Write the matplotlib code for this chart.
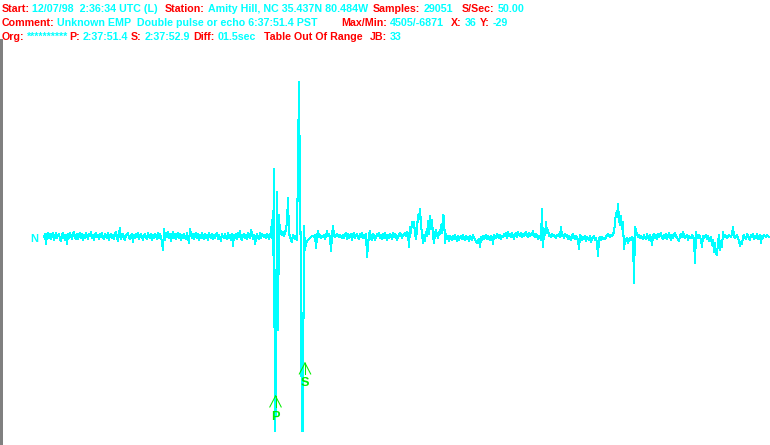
import numpy as np
import matplotlib
matplotlib.use("Agg")
import matplotlib.pyplot as plt
from matplotlib.lines import Line2D

W, H, DPI = 770, 445, 100

# ---- trace amplitude (display units, ~29 counts per unit), one value per display column ----
pre_event = [
    0, 3, -7, 2, 4, -1, 3, -2, 2, 4, -3, 1, 4, -1, 2, 3, -2, -4, 2, 4,
    1, -3, 2, -7, 3, -1, 4, 1, -2, 3, 5, 0, -2, 3, -2, 2, 4, -1, 3, -3,
    2, -1, 4, 1, -2, 3, 1, 5, -1, 2, -3, 3, 4, 0, 2, -2, 3, 0, 4, -1,
    -2, 3, 1, -1, 4, -3, 2, 3, -1, 2, -2, 3, 5, 0, -4, 3, 9, -2, 2, 3,
    -1, -3, 2, 3, 4, -1, -2, 2, 3, -5, 2, -1, 3, 0, 4, -2, 1, 3, 0, -3,
    2, 3, -1, -2, 4, 0, -1, 3, -3, 2, -1, 3, 1, -2, 4, -1, 3, 0, -5, -13,
    8, -3, 4, 0, 5, -1, 3, -4, 2, 5, -1, 3, -2, 2, 4, -1, 3, -3, 2, -1,
    3, 0, -2, 4, -1, -6, 8, 2, -1, 3, -2, 2, 4, -1, 3, -3, 2, -1, 4, 0,
    -2, 3, -1, 2, -3, 4, 0, -1, 3, -2, 2, -1, 3, 4, -2, 2, -1, -4, 3, 0,
    -1, 3, 0, -2, 4, -1, 2, -3, 3, -9, 2, -1, 3, -2, 4, 0, 6, -1, -3, 2,
    3, -1, 2, -2, 4, 0, -1, 7, 3, -2, 2, -7, -1, 3, 0, -2, 4, -1, 3, 1,
]
event = [
    0, 2, -1, 3, 1, -2, 2, 4, 17, -18, 68, -236, -116, 45, -93, 22, 3, 6, 2, 5,
    1, 4, 8, 15, 39, 3, 1, -3, -5, 2, 0, -2, 1, -3, 74, 155, 44, -35, -236, -168,
    11, -13, -6, -4, -3, -2, -1, 0, 1, 1, 0, 2, -11, 1, 6, 0, 2, -1, 1, 0,
    2, -2, 1, 6, 1, 3, 0, -14, 2, 11, 1, 0, 2, 3, 1, 0, 2, 1, -1, 2,
]
coda_early = [
    -1, 2, 4, -2, 3, -1, 2, 3, -3, 2, 4, -1, 2, 3, -1, -2, 3, 0, 4, -1,
    2, -1, 3, -20, -8, 2, 6, -1, -3, 3, 1, -3, 0, 3, 1, 4, -1, 2, -2, 3,
    -1, 4, 1, -3, 2, -1, 3, 1, -2, 4, 0, 3, 1, -3, 0, 2, 4, 2, -1, 2,
    2, 4, 1, 5, 3, -10, 10, 4, 15, 14, 15, 3, -2, 8, 22, 18, 28, 12, 3, -6,
    2, -4, 5, 1, 16, 3, 21, 8, 17, 2, -6, 4, 7, 2, -1, 5, 3, 12, 4, 22,
    21, -6, 3, -2, 1, -4, 1, -1, -3, 1, -2, 2, -1, -4, 1, -3, 0, 1, -2, 2,
    -1, -3, 1, -2, 0, -4, 1, -1, -3, 2, -1, -2, -5, -6, -3, -2, -10, 0, -3, 1,
    -2, 0, 2, -2, 1, -1, -3, 1, 0, -7, 2, 1, -1, 3, 1, -1, 2, -2, 1, 0,
    3, 1, 4, -1, 5, 1, 3, 0, 4, 1, -2, 3, 4, 0, 5, 2, 1, 4, 0, 3,
    1, 3, 5, 2, 0, 4, 1, 3, 2, 6, 1, 0, 3, 2, -2, 1, 0, -3, 28, -10,
]
coda_late = [
    5, 2, 15, 4, 7, 1, 2, 0, 3, 1, 2, 0, -1, 2, 1, 3, 0, 10, 1, 2,
    -1, 3, 1, 2, -2, 1, -1, -3, 1, 3, -1, -2, 1, -1, -3, -12, 2, 1, -3, 0,
    -2, 1, -4, 0, -1, -3, 1, -5, -2, 0, 1, -3, -1, -6, -19, -2, 0, -3, 0, -2,
    -1, -2, 0, 2, 3, 1, 0, 2, 1, 3, 5, 14, 24, 20, 33, 18, 12, 21, 8, 15,
    -12, -2, -4, -1, -6, -2, -1, -3, 0, -2, -46, 10, 6, 3, 0, 2, -1, 1, 0, -2,
    2, -1, -2, 3, 0, -3, 2, -1, -8, 1, 3, -1, 2, -2, 3, 0, 2, 4, -1, -2,
    2, -1, 3, -2, 1, 4, 0, -3, 2, -1, 3, 4, 1, -1, -2, -4, 1, 3, 0, 5,
    1, -1, 0, 2, -3, 1, 0, -1, 2, 0, -2, -26, 5, 0, -1, 2, 0, -3, -10, 1,
    -1, 0, 2, -2, 1, -4, -1, 0, -8, -3, -15, -6, -17, -18, -5, 2, -13, -4, -10, 5,
    0, 2, 1, -1, 0, 2, 1, 0, 3, 10, 1, -1, 0, 2, -2, -3, -9, -5, -7, 0,
    2, -1, -2, 3, 1, -1, -3, 2, 0, 3, -2, 1, -1, 3, -2, 0, 2, -6, 1, -1,
    2, 1, 0, 2, 1, 0,
]

pick_labels = ["P", "S"]
pick_index = [231.5, 261.0]

# header: (text, colour key)
header_lines = [
    [("Start:", "r"), ("12/07/98  2:36:34 UTC (L)", "c"), ("Station:", "r"),
     ("Amity Hill, NC 35.437N 80.484W", "c"), ("Samples:", "r"), ("29051", "c"),
     ("S/Sec:", "r"), ("50.00", "c")],
    [("Comment:", "r"), ("Unknown EMP  Double pulse or echo 6:37:51.4 PST", "c"),
     ("Max/Min:", "r"), ("4505/-6871", "c"), ("X:", "r"), ("36", "c"),
     ("Y:", "r"), ("-29", "c")],
    [("Org:", "r"), ("**********", "c"), ("P:", "r"), ("2:37:51.4", "c"),
     ("S:", "r"), ("2:37:52.9", "c"), ("Diff:", "r"), ("01.5sec", "c"),
     ("Table Out Of Range", "r"), ("JB:", "r"), ("33", "c")],
]
channel_label = "N"

# ---- layout / style ----
# anchor x (px) for a segment, or None to follow the previous one after one space
header_anchor = [
    [1.5, None, 165, None, 373, None, 462, None],
    [1.5, None, 341, None, 451, None, 480, None],
    [1.5, None, 69, None, None, None, None, None, 264, 370, None],
]
header_baseline = [12.5, 26.2, 40.0]
COL = {"r": "#ff0000", "c": "#00ffff"}
GREEN = "#00ee00"
FS = 7.7
FONT = "Liberation Sans"

amp = np.array(pre_event + event + coda_early + coda_late, dtype=float)
idx = np.arange(len(amp))

fig = plt.figure(figsize=(W / DPI, H / DPI), dpi=DPI)
fig.patch.set_facecolor("white")

# trace axes: 1 data unit == 1 pixel; baseline at y=237 px from top, bottom clip at 432 px
ax = fig.add_axes([0, 13 / H, 1, 432 / H])
ax.set_xlim(-44, W - 44)
ax.set_ylim(-195, 237)
ax.axis("off")
ax.plot(idx, amp, color="#00ffff", lw=0.75, antialiased=False)

# pick markers (arrow pointing up + label)
tip_level = {"P": -159, "S": -126}
for lab, xi in zip(pick_labels, pick_index):
    y0 = tip_level[lab]
    for dx in (-5.7, 0, 5.7):
        ax.plot([xi, xi + dx], [y0, y0 - 11], color=GREEN, lw=0.75, zorder=5)
    ax.text(xi, y0 - 20.5, lab, color=GREEN, fontsize=9.2, fontweight="bold",
            family=FONT, ha="center", va="center", zorder=6)

# header text, laid out segment by segment
renderer = fig.canvas.get_renderer()
probe = fig.text(0, 0, "x x", fontsize=FS, fontweight="bold", family=FONT)
w2 = probe.get_window_extent(renderer).width
probe.set_text("xx")
space_w = w2 - probe.get_window_extent(renderer).width
probe.remove()

for line, anchors, base in zip(header_lines, header_anchor, header_baseline):
    x = 0.0
    for (txt, c), anc in zip(line, anchors):
        x = anc if anc is not None else x + space_w
        t = fig.text(x / W, 1 - base / H, txt, color=COL[c], fontsize=FS,
                     fontweight="bold", family=FONT, ha="left", va="baseline")
        x += t.get_window_extent(renderer).width

# channel label
fig.text(30 / W, 1 - 241.5 / H, channel_label, color="#00ffff", fontsize=FS + 0.3,
         fontweight="bold", family=FONT, ha="left", va="baseline")

# gray left border
fig.add_artist(Line2D([0.5 / W, 0.5 / W], [0, 1 - 40 / H], transform=fig.transFigure,
                      color="#808080", lw=1.0, antialiased=False))

fig.savefig("out.png", dpi=DPI, facecolor="white")
